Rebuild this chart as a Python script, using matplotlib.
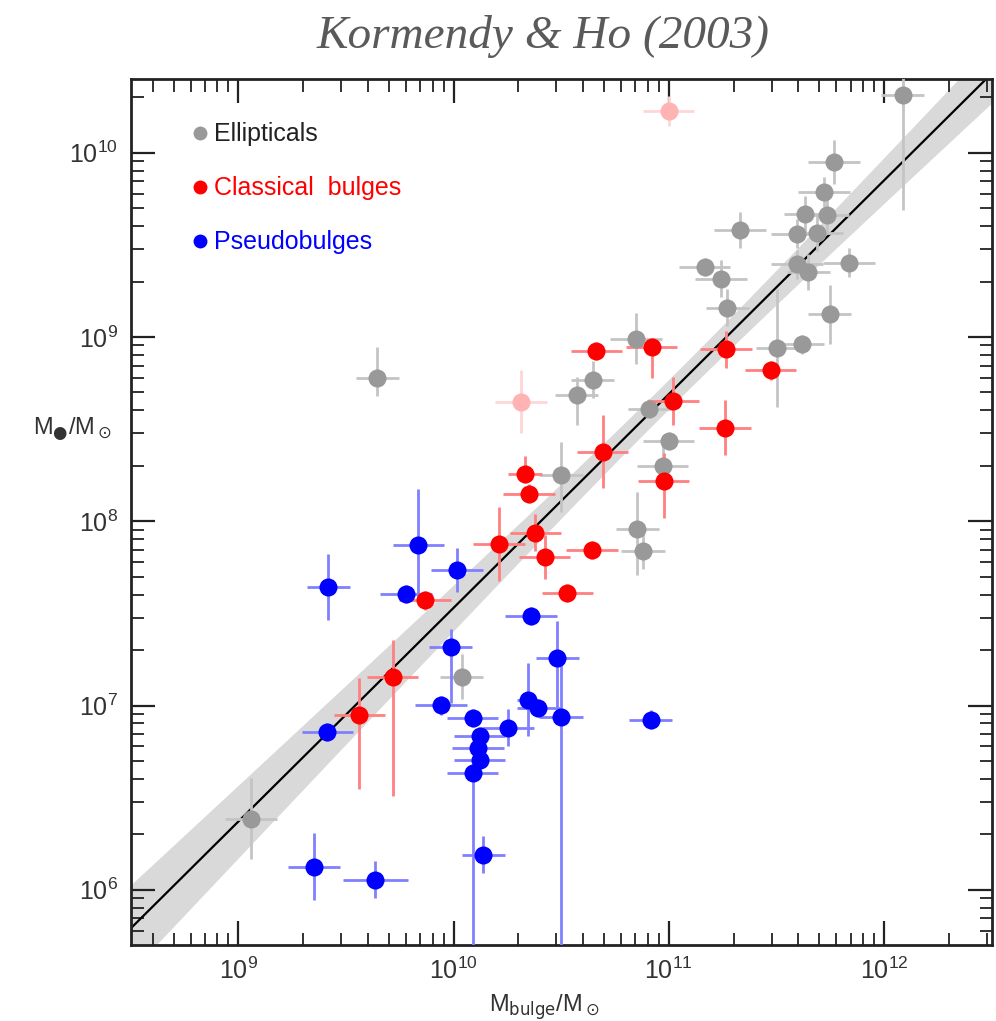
import numpy as np
import matplotlib
matplotlib.use('Agg')
from matplotlib import pyplot as plt
from matplotlib.lines import Line2D

plt.rcParams['font.family'] = ['Liberation Sans', 'DejaVu Sans']
plt.rcParams['mathtext.fontset'] = 'dejavusans'

# log10 values
ell_x = [12.087, 11.766, 11.722, 11.634, 11.736, 11.596, 11.690, 11.332, 11.836, 11.596,
         11.648, 11.166, 11.243, 11.271, 11.748, 10.848, 11.503, 11.620, 10.646, 10.572,
         10.909, 10.999, 10.971, 10.499, 10.854, 10.880, 10.037, 9.058, 9.646]
ell_y = [10.311, 9.950, 9.787, 9.666, 9.660, 9.561, 9.566, 9.581, 9.403, 9.394,
         9.353, 9.381, 9.316, 9.159, 9.123, 8.991, 8.942, 8.960, 8.767, 8.684,
         8.611, 8.436, 8.300, 8.250, 7.957, 7.839, 7.157, 6.385, 8.778]
ell_xe = [0.10, 0.12, 0.12, 0.10, 0.10, 0.12, 0.12, 0.12, 0.12, 0.12,
          0.10, 0.12, 0.12, 0.10, 0.10, 0.12, 0.10, 0.10, 0.10, 0.10,
          0.10, 0.12, 0.12, 0.10, 0.10, 0.10, 0.10, 0.12, 0.10]
ell_ylo = [0.62, 0.12, 0.08, 0.10, 0.10, 0.08, 0.10, 0.10, 0.08, 0.08,
           0.10, 0.05, 0.10, 0.10, 0.16, 0.14, 0.32, 0.05, 0.10, 0.16,
           0.05, 0.05, 0.12, 0.20, 0.25, 0.10, 0.12, 0.22, 0.10]
ell_yhi = [0.15, 0.12, 0.08, 0.10, 0.10, 0.08, 0.10, 0.10, 0.08, 0.08,
           0.10, 0.05, 0.10, 0.10, 0.16, 0.14, 0.32, 0.05, 0.10, 0.10,
           0.05, 0.05, 0.12, 0.18, 0.20, 0.10, 0.12, 0.22, 0.17]

omit_x = [10.999, 10.313]
omit_y = [10.226, 8.649]
omit_xe = [0.12, 0.12]
omit_ye = [0.08, 0.17]

cla_x = [10.664, 10.920, 11.266, 11.473, 11.020, 11.260, 10.692, 10.332, 10.350, 10.976,
         10.380, 10.210, 10.423, 10.643, 10.529, 9.868, 9.717, 9.563]
cla_y = [8.924, 8.947, 8.933, 8.819, 8.653, 8.508, 8.378, 8.255, 8.150, 8.219,
         7.938, 7.878, 7.807, 7.845, 7.611, 7.571, 7.157, 6.948]
cla_xe = [0.12, 0.12, 0.12, 0.12, 0.12, 0.12, 0.12, 0.08, 0.12, 0.12,
          0.12, 0.12, 0.12, 0.12, 0.12, 0.12, 0.12, 0.12]
cla_ylo = [0.05, 0.17, 0.10, 0.05, 0.13, 0.15, 0.20, 0.05, 0.05, 0.20,
           0.10, 0.20, 0.12, 0.05, 0.05, 0.05, 0.65, 0.40]
cla_yhi = [0.05, 0.05, 0.10, 0.05, 0.13, 0.15, 0.20, 0.10, 0.05, 0.15,
           0.10, 0.20, 0.12, 0.05, 0.05, 0.05, 0.20, 0.20]

pse_x = [9.417, 9.837, 10.015, 9.778, 10.359, 9.986, 10.482, 10.499, 9.941, 10.088,
         10.121, 10.113, 10.121, 10.088, 10.253, 10.344, 10.394, 10.915, 10.137, 9.414,
         9.351, 9.637]
pse_y = [7.643, 7.873, 7.737, 7.606, 7.485, 7.316, 7.256, 6.939, 7.001, 6.932,
         6.836, 6.770, 6.705, 6.631, 6.879, 7.032, 6.985, 6.924, 6.190, 6.855,
         6.126, 6.055]
pse_xe = [0.10, 0.12, 0.12, 0.12, 0.12, 0.10, 0.10, 0.10, 0.12, 0.12,
          0.12, 0.12, 0.12, 0.12, 0.12, 0.05, 0.10, 0.10, 0.10, 0.12,
          0.12, 0.15]
pse_ylo = [0.18, 0.30, 0.12, 0.05, 0.05, 0.30, 0.30, 1.40, 0.05, 0.05,
           0.05, 0.05, 0.05, 1.00, 0.10, 0.20, 0.05, 0.05, 0.10, 0.05,
           0.18, 0.10]
pse_yhi = [0.18, 0.30, 0.12, 0.05, 0.05, 0.10, 0.20, 0.30, 0.05, 0.05,
           0.05, 0.05, 0.05, 0.05, 0.10, 0.20, 0.05, 0.05, 0.10, 0.05,
           0.18, 0.10]

# fit: log M_BH = fit_a + fit_b * (log M_bulge - 11), with its uncertainties
fit_a, fit_b = 8.69, 1.16
fit_ea, fit_eb = 0.05, 0.08


def draw_group(ax, lx, ly, xe, ylo, yhi, color, ecolor):
    lx = np.array(lx)
    ly = np.array(ly)
    x = 10 ** lx
    y = 10 ** ly
    xerr = [x - 10 ** (lx - np.array(xe)), 10 ** (lx + np.array(xe)) - x]
    yerr = [y - 10 ** (ly - np.array(ylo)), 10 ** (ly + np.array(yhi)) - y]
    ax.errorbar(x, y, xerr=xerr, yerr=yerr, fmt='none', ecolor=ecolor,
                elinewidth=2, capsize=0, zorder=3)
    ax.plot(x, y, 'o', color=color, markersize=13, markeredgewidth=0, zorder=4)


fig = plt.figure(figsize=(9.96, 10.21), dpi=100)
ax = fig.add_axes([0.1312, 0.0744, 0.8645, 0.8482])
ax.set_xscale('log')
ax.set_yscale('log')
ax.set_xlim(10 ** 8.5, 10 ** 12.5)
ax.set_ylim(10 ** 5.7, 10 ** 10.4)

lxs = np.linspace(8.3, 12.7, 200)
lys = fit_a + fit_b * (lxs - 11)
band = np.sqrt(fit_ea ** 2 + (fit_eb * (lxs - 11)) ** 2) + 0.03
ax.fill_between(10 ** lxs, 10 ** (lys - band), 10 ** (lys + band),
                color='#d9d9d9', lw=0, zorder=1)
ax.plot(10 ** lxs, 10 ** lys, color='black', lw=1.6, zorder=2)

draw_group(ax, ell_x, ell_y, ell_xe, ell_ylo, ell_yhi, '#999999', '#c4c4c4')
draw_group(ax, omit_x, omit_y, omit_xe, omit_ye, omit_ye, '#ffb3b3', '#ffd6d6')
draw_group(ax, cla_x, cla_y, cla_xe, cla_ylo, cla_yhi, '#ff0000', '#ff8080')
draw_group(ax, pse_x, pse_y, pse_xe, pse_ylo, pse_yhi, '#0000ff', '#8080ff')

ax.tick_params(which='both', direction='in', top=True, right=True, colors='#222222',
               labelcolor='#333333', labelsize=18)
ax.tick_params(which='major', length=17, width=1.6, pad=9)
ax.tick_params(which='minor', length=9, width=1.3)
for s in ax.spines.values():
    s.set_linewidth(2)
    s.set_color('#222222')

ax.set_xlabel(r'M$_{\rm bulge}$/M$_\odot$', fontsize=17, color='#333333')
ax.xaxis.set_label_coords(0.481, -0.055)
ax.set_ylabel('M$_{●}$/M$_\\odot$', fontsize=17, color='#333333', rotation=0)
ax.yaxis.set_label_coords(-0.068, 0.58)

handles = [Line2D([], [], marker='o', ls='none', color=c, markersize=10, markeredgewidth=0)
           for c in ['#999999', '#ff0000', '#0000ff']]
leg = ax.legend(handles, ['Ellipticals', 'Classical  bulges', 'Pseudobulges'],
                loc='upper left', bbox_to_anchor=(0.043, 0.976), frameon=False,
                fontsize=18, handletextpad=0.15, handlelength=0.8, labelspacing=1.2,
                labelcolor=['#222222', '#ff0000', '#0000ff'])

fig.text(0.545, 0.964, 'Kormendy & Ho (2003)', ha='center', va='center',
         fontsize=34, style='italic', family='Liberation Serif', color='#5a5a5a')

fig.savefig('out.png', dpi=100)
